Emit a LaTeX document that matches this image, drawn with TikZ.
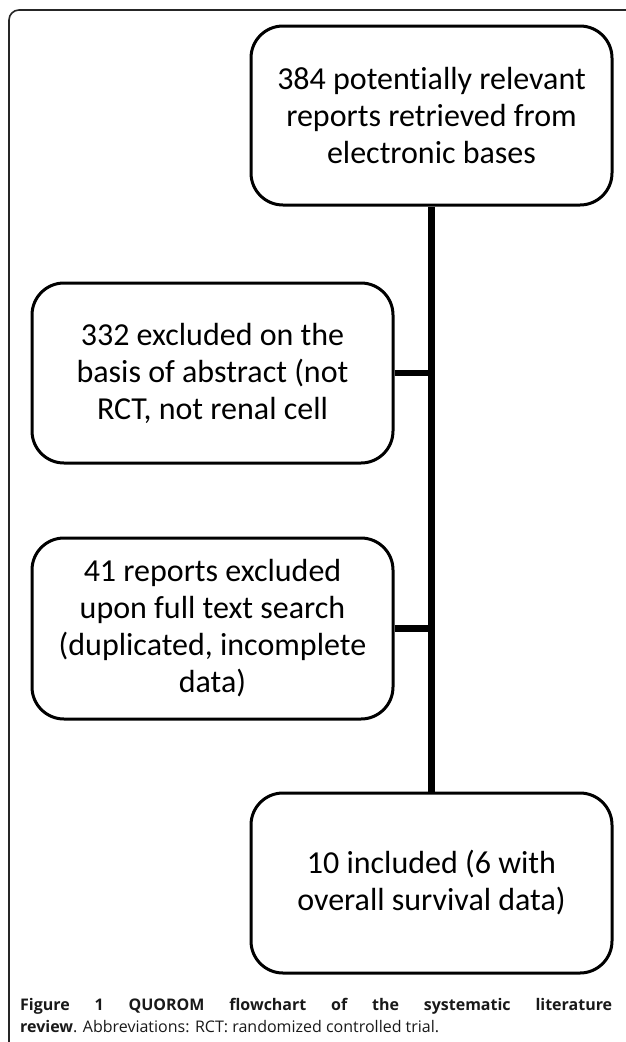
\documentclass[tikz,border=0pt]{standalone}
\usepackage{fontspec}
\setmainfont{Carlito}[Ligatures=NoCommon]
\newfontfamily\capfont{Open Sans}
\begin{document}
\begin{tikzpicture}[x=1pt,y=-1pt,
  flowbox/.style={draw=black, line width=3pt, rounded corners=32pt, minimum width=361pt, align=center, inner sep=0pt, font=\fontsize{32}{37}\selectfont},
  link/.style={line width=6.5pt, draw=black},
  outerframe/.style={draw=black!85, line width=1.6pt, rounded corners=10pt},
  captext/.style={anchor=base west, inner sep=0pt, text=black!90, font=\capfont\fontsize{16}{20}\selectfont}]
\useasboundingbox (0,0) rectangle (625,1042);
\draw[outerframe] (9,1060) -- (9,10) -- (660,10);
\node[flowbox, minimum height=179pt] (retrieved) at (431.5,115.5) {384 potentially relevant\\reports retrieved from\\electronic bases};
\node[flowbox, minimum height=180pt] (abstract) at (212.5,373) {332 excluded on the\\basis of abstract (not\\RCT, not renal cell};
\node[flowbox, minimum height=181pt] (fulltext) at (212.5,628.5) {41 reports excluded\\upon full text search\\(duplicated, incomplete\\data)};
\node[flowbox, minimum height=180pt] (included) at (431.5,883) {10 included (6 with\\overall survival data)};
\draw[link] (retrieved.south) -- (included.north);
\draw[link] (abstract.east) -- (abstract.east -| retrieved.south);
\draw[link] (fulltext.east) -- (fulltext.east -| retrieved.south);
\node[captext, font=\capfont\bfseries\fontsize{16}{20}\selectfont] (cap1) at (20,1010) {\makebox[592pt][s]{Figure 1 QUOROM flowchart of the systematic literature}};
\node[captext] (cap2) at (20,1032) {\textbf{review}. Abbreviations: RCT: randomized controlled trial.};
\end{tikzpicture}
\end{document}
